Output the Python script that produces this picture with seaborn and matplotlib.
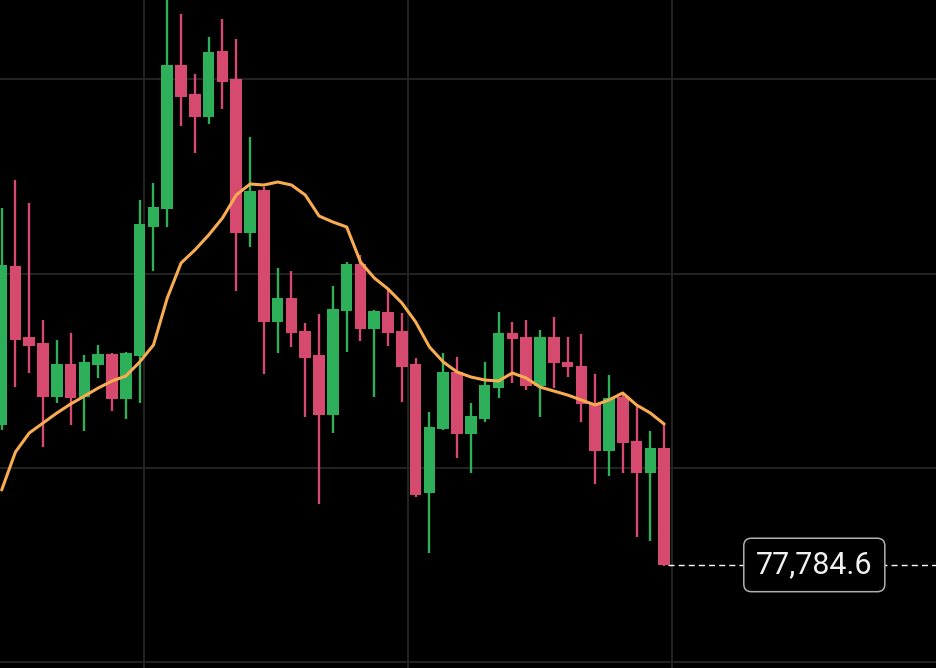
import numpy as np
import pandas as pd
import matplotlib
matplotlib.use('Agg')
import matplotlib.pyplot as plt
import seaborn as sns

# candle data
opens = [78134.5, 78532, 78354.5, 78339.5, 78204.5, 78287, 78204.5, 78284.5, 78312, 78199.5,
         78307, 78629.5, 78674.5, 79034.5, 78962, 78904.5, 79069.5, 78999.5, 78614.5, 78722,
         78392, 78452, 78369.5, 78309.5, 78159.5, 78419.5, 78537, 78374.5, 78417, 78369.5,
         78287, 77964.5, 78124.5, 78267, 78112, 78149.5, 78227, 78364.5, 78354.5, 78232,
         78354.5, 78292, 78282, 78189.5, 78069.5, 78204.5, 78094.5, 78014.5, 78077]
highs = [78677, 78747, 78689.5, 78397, 78347, 78364.5, 78309.5, 78334.5, 78314.5, 78317,
         78697, 78739.5, 79215, 79162, 79012, 79104.5, 79149.5, 79099.5, 78854.5, 78729.5,
         78527, 78519.5, 78389.5, 78412, 78482, 78542, 78559.5, 78422, 78472, 78414.5,
         78302, 78167, 78314.5, 78304.5, 78189.5, 78292, 78417, 78392, 78397, 78372,
         78404.5, 78354.5, 78362, 78262, 78259.5, 78214.5, 78182, 78119.5, 78139.5]
lows = [78122, 78229.5, 78264.5, 78079.5, 78189.5, 78134.5, 78119.5, 78252, 78169.5, 78149.5,
        78189.5, 78519.5, 78629.5, 78882, 78814.5, 78887, 78924.5, 78469.5, 78579.5, 78262,
        78314.5, 78329.5, 78154.5, 77937, 78114.5, 78317, 78344.5, 78204.5, 78332, 78192,
        77954.5, 77814.5, 78122, 78052, 78014.5, 78142, 78202, 78239.5, 78222, 78154.5,
        78227, 78254.5, 78142, 77987, 78007, 78014.5, 77854.5, 77844.5, 77782]
closes = [78534.5, 78347, 78332, 78204.5, 78287, 78202, 78292, 78312, 78199.5, 78314.5,
          78637, 78679.5, 79034.5, 78954.5, 78904.5, 79067, 78992, 78614.5, 78719.5, 78392,
          78452, 78364.5, 78302, 78159.5, 78424.5, 78537, 78374.5, 78419.5, 78364.5, 78279.5,
          77959.5, 78129.5, 78267, 78112, 78157, 78234.5, 78364.5, 78349.5, 78232, 78354.5,
          78289.5, 78279.5, 78187, 78069.5, 78202, 78089.5, 78014.5, 78077, 77784.6]
# moving average line
ma = [77972, 78067, 78114.5, 78139.5, 78164.5, 78187, 78207, 78227, 78244.5, 78257,
      78292, 78334.5, 78452, 78539.5, 78572, 78609.5, 78652, 78709.5, 78737, 78734.5,
      78742, 78734.5, 78709.5, 78657, 78642, 78629.5, 78542, 78502, 78474.5, 78439.5,
      78392, 78329.5, 78292, 78267, 78254.5, 78247, 78244.5, 78264.5, 78252, 78229.5,
      78219.5, 78209.5, 78197, 78184.5, 78197, 78214.5, 78184.5, 78164.5, 78137]

last_price = 77784.6
grid_prices = [79000, 78513, 78028, 77542]
grid_x = [10.3, 29.45, 48.6]

GREEN = '#2eb05a'
RED = '#d64a70'
ORANGE = '#f8ab50'

df = pd.DataFrame({'open': opens, 'high': highs, 'low': lows, 'close': closes, 'ma': ma})
df['idx'] = np.arange(len(df))
df['up'] = df['close'] >= df['open']
colors = np.where(df['up'], GREEN, RED)

sns.set_theme(style='dark', rc={'axes.facecolor': 'black', 'figure.facecolor': 'black',
                                'grid.color': '#262626'})

fig = plt.figure(figsize=(9.36, 6.68), dpi=100)
ax = fig.add_axes([0, 0, 1, 1])

ax.vlines(df['idx'], df['low'], df['high'], color=colors, lw=1.7, zorder=2)
ax.bar(df['idx'], (df['close'] - df['open']).abs(),
       bottom=np.minimum(df['open'], df['close']),
       width=0.84, color=colors, linewidth=0, zorder=3)
sns.lineplot(data=df, x='idx', y='ma', ax=ax, color=ORANGE, lw=2.2, zorder=4)

# last price line + label
last_i = df['idx'].iloc[-1]
ax.plot([last_i + 0.3, 80], [last_price, last_price], color='white', lw=1.0,
        dashes=(4.3, 3.0), zorder=1)
ax.text(0.870, last_price, f'{last_price:,.1f}', transform=ax.get_yaxis_transform(),
        ha='center', va='center', color='#f0f0f0', fontsize=22, family=['Roboto', 'DejaVu Sans'],
        bbox=dict(boxstyle='round,pad=0.4,rounding_size=0.25', fc='black', ec='#b0b0b0', lw=1.1),
        zorder=5)

ax.set_xlim(-0.12, 67.7)
ax.set_ylim(77527, 79197)
ax.set_xticks(grid_x)
ax.set_yticks(grid_prices)
ax.grid(True, color='#262626', lw=1.3)
ax.tick_params(length=0, labelbottom=False, labelleft=False)
ax.set_xlabel('')
ax.set_ylabel('')
for s in ax.spines.values():
    s.set_visible(False)

fig.savefig('out.png', dpi=100, facecolor='black')
